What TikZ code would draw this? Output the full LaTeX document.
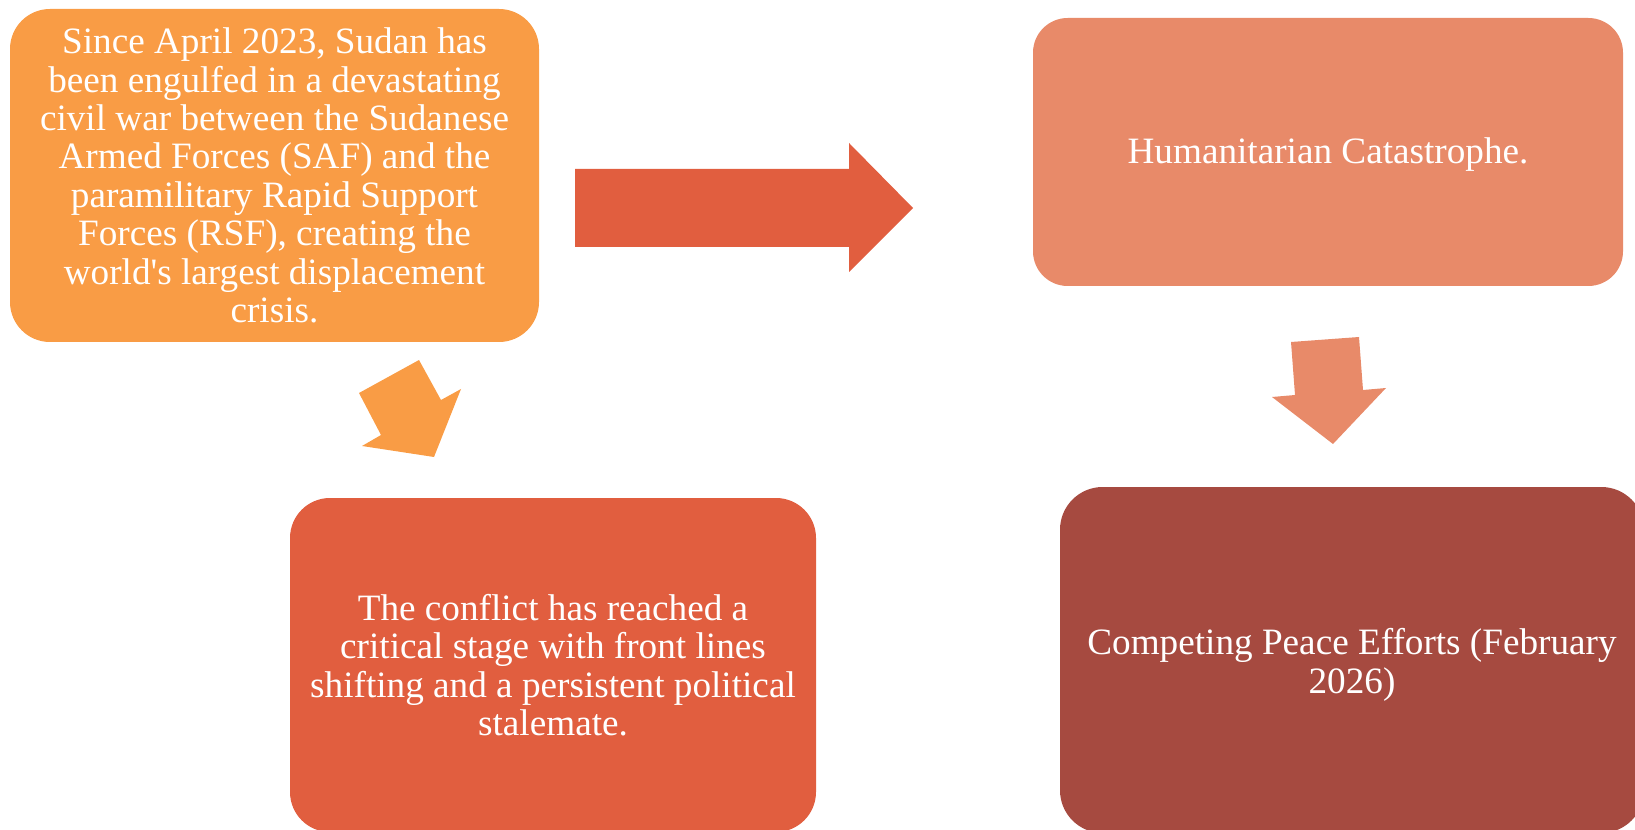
\documentclass[tikz,border=0pt]{standalone}
\usepackage{fontspec}
\setmainfont{Liberation Serif}
\definecolor{cOrange}{HTML}{F99C45}
\definecolor{cRed}{HTML}{E15E3F}
\definecolor{cSalmon}{HTML}{E88A69}
\definecolor{cBrown}{HTML}{A64A40}
\begin{document}
\begin{tikzpicture}[x=0.75pt,y=-0.75pt,
  box/.style={rounded corners=#1, inner sep=0pt, text=white, align=center,
    font=\fontsize{27.9pt}{28.8pt}\selectfont, anchor=center},
  boxtext/.style={inner sep=0pt, text=white, align=center,
    font=\fontsize{27.9pt}{28.8pt}\selectfont, anchor=center},
  blockarrow/.style={draw=none}
]
\useasboundingbox (0,0) rectangle (1635,830);
\clip (0,0) rectangle (1635,830);

\node[box=30pt, fill=cOrange, minimum width=396.75pt, minimum height=249.75pt] (start) at (274.5,175.5)
 {Since April 2023, Sudan has\\ been engulfed in a devastating\\ civil war between the Sudanese\\ Armed Forces (SAF) and the\\ paramilitary Rapid Support\\ Forces (RSF), creating the\\ world\textquotesingle s largest displacement\\ crisis.};

\node[box=26pt, fill=cSalmon, minimum width=442.5pt, minimum height=201pt] (human) at (1328,152) {};
\node[boxtext, yshift=-2.25pt] (humantext) at (human.center) {Humanitarian Catastrophe.};

\node[box=30pt, fill=cRed, minimum width=394.5pt, minimum height=250.5pt] (conflict) at (553,665)
 {The conflict has reached a\\ critical stage with front lines\\ shifting and a persistent political\\ stalemate.};

\node[box=32pt, fill=cBrown, minimum width=438pt, minimum height=259.5pt] (peace) at (1352,660) {};
\node[boxtext, yshift=-3.75pt] (peacetext) at (peace.center) {Competing Peace Efforts (February\\ 2026)};

% block arrows
\fill[cRed, blockarrow] (575,169) -- (849,169) -- (849,143) -- (913,208) -- (849,272) -- (849,247) -- (575,247) -- cycle;
\fill[cOrange, blockarrow] (359,393) -- (419,360) -- (441,400) -- (461,389) -- (434,457) -- (362,446) -- (381,435) -- cycle;
\fill[cSalmon, blockarrow] (1291,342) -- (1359,337) -- (1363,390) -- (1386,388) -- (1333,444) -- (1272,397) -- (1295,395) -- cycle;
\end{tikzpicture}
\end{document}
